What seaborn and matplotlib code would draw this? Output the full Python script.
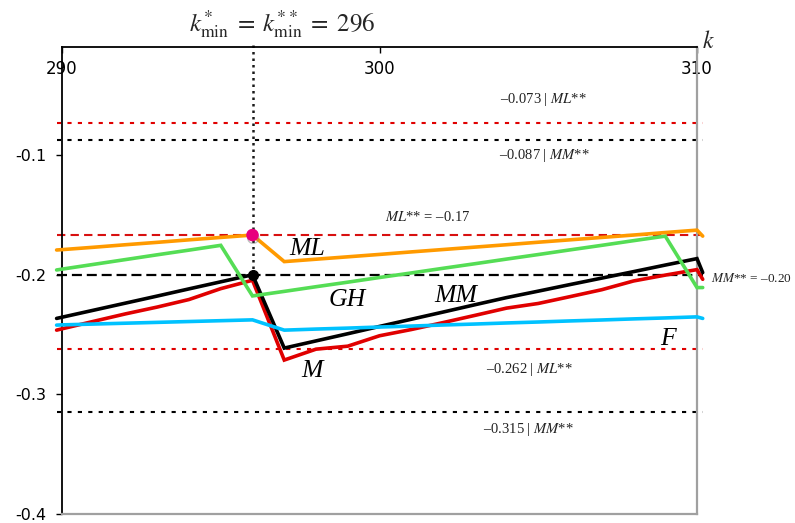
import numpy as np
import pandas as pd
import matplotlib
matplotlib.use("Agg")
import matplotlib.pyplot as plt
import matplotlib.patheffects as pe
import seaborn as sns

# ---------------- data ----------------
k = [289.83, 290, 291, 292, 293, 294, 295, 296, 297, 298, 299, 300,
     301, 302, 303, 304, 305, 306, 307, 308, 309, 310, 310.18]
ML = [-0.1793, -0.1790, -0.1770, -0.1749, -0.1729, -0.1708, -0.1688, -0.1668,
      -0.1890, -0.1870, -0.1850, -0.1830, -0.1809, -0.1789, -0.1769, -0.1749,
      -0.1728, -0.1708, -0.1688, -0.1668, -0.1647, -0.1627, -0.1677]
GH = [-0.1960, -0.1953, -0.1913, -0.1873, -0.1833, -0.1794, -0.1754, -0.2177,
      -0.2139, -0.2100, -0.2062, -0.2023, -0.1985, -0.1946, -0.1908, -0.1869,
      -0.1831, -0.1792, -0.1754, -0.1715, -0.1677, -0.2107, -0.2107]
MM = [-0.2365, -0.2355, -0.2296, -0.2237, -0.2178, -0.2118, -0.2059, -0.2000,
      -0.2613, -0.2553, -0.2493, -0.2432, -0.2372, -0.2312, -0.2251, -0.2191,
      -0.2137, -0.2082, -0.2028, -0.1974, -0.1919, -0.1865, -0.1982]
M = [-0.2463, -0.2452, -0.2389, -0.2327, -0.2270, -0.2207, -0.2116, -0.2046,
     -0.2713, -0.2622, -0.2597, -0.2510, -0.2458, -0.2400, -0.2340, -0.2279,
     -0.2240, -0.2183, -0.2125, -0.2052, -0.2003, -0.1957, -0.2038]
F = [-0.2421, -0.2419, -0.2412, -0.2405, -0.2398, -0.2391, -0.2384, -0.2377,
     -0.2463, -0.2454, -0.2446, -0.2437, -0.2429, -0.2420, -0.2412, -0.2403,
     -0.2395, -0.2386, -0.2378, -0.2369, -0.2361, -0.2352, -0.2365]

series_names = ["M", "MM", "F", "GH", "ML"]
series_colors = {"ML": "#ff9a00", "GH": "#55dd55", "MM": "#000000",
                 "M": "#e00000", "F": "#00c2ff"}

k_min = 296
ref_values = [-0.073, -0.087, -0.167, -0.200, -0.262, -0.315]
ref_labels = ["–0.073 | $ML$**", "–0.087 | $MM$**", "$ML$** = –0.17",
              "$MM$** = –0.20", "–0.262 | $ML$**", "–0.315 | $MM$**"]

x_ticks = [290, 300, 310]
y_ticks = [-0.1, -0.2, -0.3, -0.4]
y_tick_labels = ["-0.1", "-0.2", "-0.3", "-0.4"]

# ---------------- style ----------------
sns.set_theme(style="white")
plt.rcParams["font.family"] = ["DejaVu Sans"]
plt.rcParams["mathtext.fontset"] = "stix"
plt.rcParams["axes.unicode_minus"] = False

fig = plt.figure(figsize=(7.95, 5.23), dpi=100)
ax = fig.add_axes([62 / 795, 1 - 514 / 523, (697 - 62) / 795, (514 - 47) / 523])

df = pd.DataFrame({
    "k": k * 5,
    "value": M + MM + F + GH + ML,
    "series": sum([[s] * len(k) for s in ["M", "MM", "F", "GH", "ML"]], []),
})
sns.lineplot(data=df, x="k", y="value", hue="series", hue_order=series_names,
             palette=series_colors, linewidth=2.6, legend=False, ax=ax,
             zorder=3)
for ln in ax.get_lines():
    ln.set_clip_on(False)
    ln.set_solid_joinstyle("miter")

# ---------------- reference lines ----------------
ref_styles = [
    dict(color="#e00000", lw=1.5, ls=(0, (2, 3))),
    dict(color="#000000", lw=1.5, ls=(0, (2, 3))),
    dict(color="#d81010", lw=1.5, ls=(0, (4, 2.5))),
    dict(color="#000000", lw=1.6, ls=(0, (4.5, 2.2))),
    dict(color="#e00000", lw=1.5, ls=(0, (2, 3))),
    dict(color="#000000", lw=1.5, ls=(0, (2, 3))),
]
for v, st in zip(ref_values, ref_styles):
    ax.axhline(v, xmin=-0.0085, xmax=1.009, clip_on=False, zorder=2, **st)

# vertical dotted line at k_min
i_min = k.index(k_min)
ax.axvline(k_min, ymin=(MM[i_min] + 0.4) / 0.3904, ymax=1.005, color="#1a1a1a",
           lw=1.8, ls=(0, (1, 1.6)), clip_on=False, zorder=2)

# markers
ax.plot([k_min], [ML[i_min]], "o", color="#e8007d", ms=8, zorder=6, clip_on=False,
        path_effects=[pe.SimpleLineShadow(offset=(0.5, -2), shadow_color="gray", alpha=0.5),
                      pe.Normal()])
ax.plot([k_min], [MM[i_min]], "o", color="#000000", ms=7, zorder=6, clip_on=False)

# ---------------- axes ----------------
ax.set_xlim(290, 310)
ax.set_ylim(-0.4, -0.0096)
ax.set_xlabel("")
ax.set_ylabel("")
ax.xaxis.tick_top()
ax.set_xticks(x_ticks)
ax.set_xticklabels([str(t) for t in x_ticks])
ax.tick_params(axis="x", direction="in", length=4, width=1, pad=-22,
               labelsize=12, top=True, bottom=False, labeltop=True,
               labelbottom=False, colors="black")
ax.set_yticks(y_ticks)
ax.set_yticklabels(y_tick_labels)
ax.tick_params(axis="y", direction="out", length=4, width=1, pad=7,
               labelsize=11.5, left=True, colors="black")
ax.grid(False)

for side, col, lw in [("top", "black", 1.3), ("left", "black", 1.3),
                      ("bottom", "#a0a0a0", 1.6), ("right", "#a0a0a0", 1.6)]:
    ax.spines[side].set_visible(True)
    ax.spines[side].set_color(col)
    ax.spines[side].set_linewidth(lw)

# ---------------- annotations ----------------
serif = "Liberation Serif"
big = dict(fontsize=18.5, family=serif, style="italic", ha="center",
           va="center", color="black", zorder=7)
ax.text(297.72, -0.1788, "ML", **big)
ax.text(298.98, -0.2213, "GH", **big)
ax.text(297.87, -0.2804, "M", **big)
ax.text(302.41, -0.2179, "MM", **big)
ax.text(309.09, -0.2538, "F", **big)

label_pos = [(305.15, 0.0193, "center", 10.5), (305.18, -0.0134, "center", 10.5),
             (301.53, 0.0157, "center", 10.5), (310.45, -0.0029, "left", 9.5),
             (304.71, -0.0168, "center", 10.5), (304.68, -0.0146, "center", 10.5)]
for v, lab, (xx, dy, ha, fs) in zip(ref_values, ref_labels, label_pos):
    ax.text(xx, v + dy, lab, ha=ha, fontsize=fs, family=serif, va="center",
            color="#222222", clip_on=False)

fig.text(282 / 795, 1 - 24 / 523,
         r"$k^{*}_{\min}\;=\;k^{**}_{\min}\;=\;296$",
         ha="center", va="center", fontsize=18)
fig.text(708 / 795, 1 - 41 / 523, r"$k$", ha="center", va="center", fontsize=17)

fig.savefig("out.png", dpi=100)
